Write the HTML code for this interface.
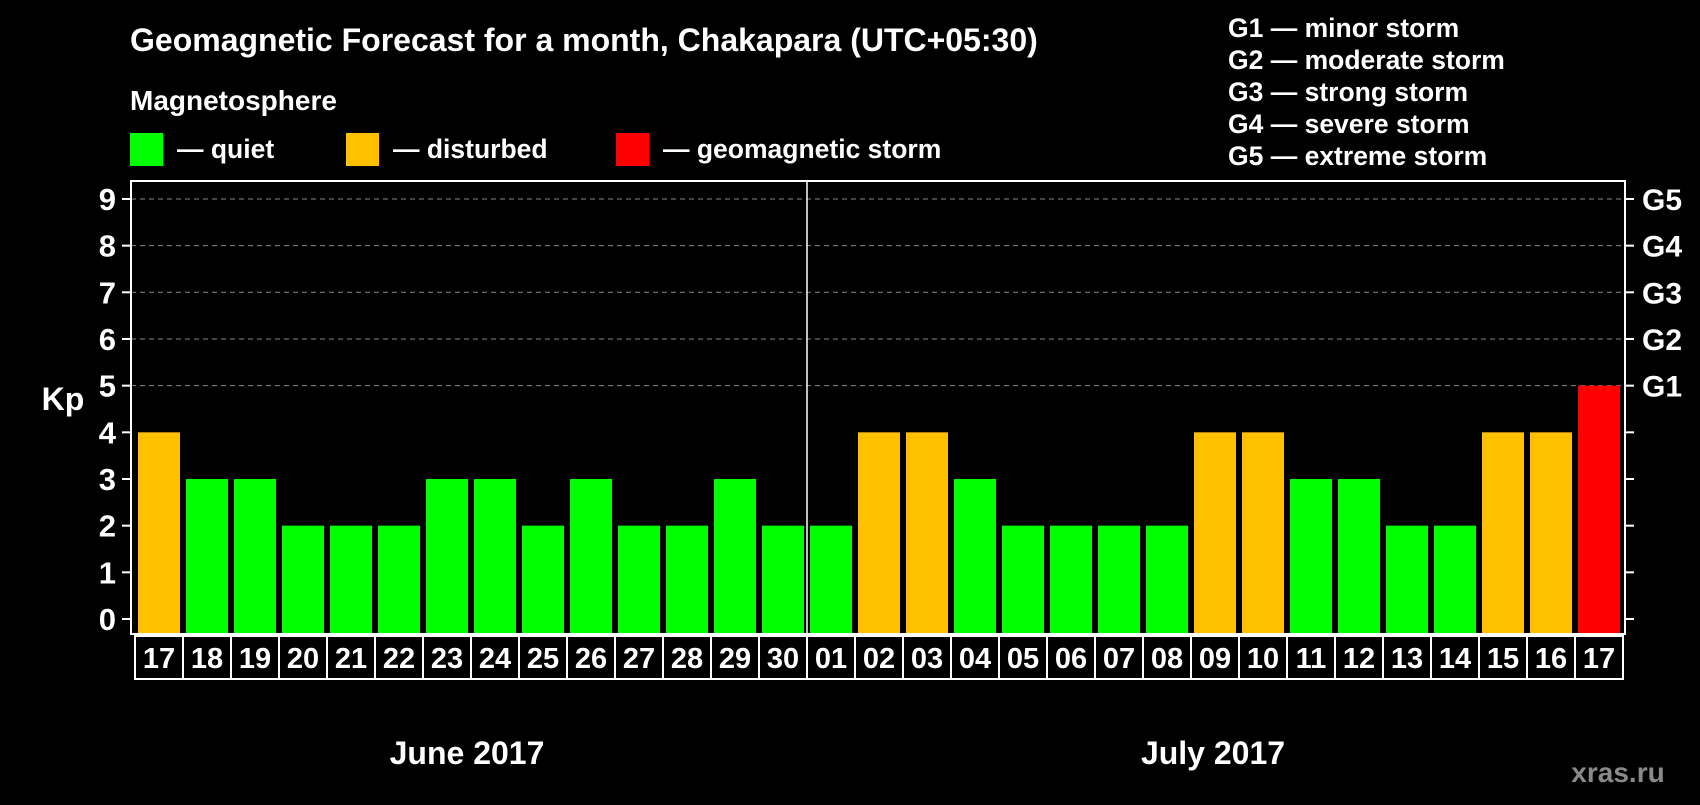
<!DOCTYPE html>
<html><head><meta charset="utf-8"><style>
body{margin:0;background:#000;width:1700px;height:800px;overflow:hidden;font-family:"Liberation Sans",sans-serif;font-weight:bold;color:#fff}
svg text{font-family:"Liberation Sans",sans-serif;font-weight:bold;fill:#fff}
</style></head><body>
<svg id="c" width="1700" height="800">
<text x="130" y="51" font-size="32">Geomagnetic Forecast for a month, Chakapara (UTC+05:30)</text>
<text x="130" y="110" font-size="28">Magnetosphere</text>
<rect x="130" y="133" width="33" height="33" fill="#00ff00"/>
<text x="177" y="158" font-size="26.5">— quiet</text>
<rect x="346" y="133" width="33" height="33" fill="#ffc000"/>
<text x="393" y="158" font-size="26.5">— disturbed</text>
<rect x="616" y="133" width="33" height="33" fill="#ff0000"/>
<text x="663" y="158" font-size="26.5">— geomagnetic storm</text>
<g font-size="26.5">
<text x="1228" y="37">G1 — minor storm</text>
<text x="1228" y="69">G2 — moderate storm</text>
<text x="1228" y="101">G3 — strong storm</text>
<text x="1228" y="133">G4 — severe storm</text>
<text x="1228" y="165">G5 — extreme storm</text>
</g>
<text x="63" y="410" font-size="32" text-anchor="middle">Kp</text>
<g id="grid"></g><g id="bars"></g><g id="axes"></g>
<text x="467" y="764" font-size="32" text-anchor="middle">June 2017</text>
<text x="1213" y="764" font-size="32" text-anchor="middle">July 2017</text>
<text x="1618" y="782" font-size="28" text-anchor="middle" style="fill:#8a8a8a">xras.ru</text>
</svg>
<script>
const days=["17","18","19","20","21","22","23","24","25","26","27","28","29","30","01","02","03","04","05","06","07","08","09","10","11","12","13","14","15","16","17"];
const kp=[4,3,3,2,2,2,3,3,2,3,2,2,3,2,2,4,4,3,2,2,2,2,4,4,3,3,2,2,4,4,5];
const yTicks=[0,1,2,3,4,5,6,7,8,9];
const gLabels=["G1","G2","G3","G4","G5"];
const NS="http://www.w3.org/2000/svg";
const L=131,R=1625,T=181,B=634,pitch=48,x0=135;
const y=v=>619-v*46.67;
function mk(t,a,p){const e=document.createElementNS(NS,t);for(const k in a)e.setAttribute(k,a[k]);p.appendChild(e);return e;}
const grid=document.getElementById('grid'),bars=document.getElementById('bars'),axes=document.getElementById('axes');
yTicks.forEach(v=>{
 if(v>=5){const g=mk('line',{x1:L,x2:R,y1:y(v),y2:y(v),stroke:'#888','stroke-dasharray':'5,4','stroke-width':1},grid);
 
 }
 mk('line',{x1:L-9,x2:L,y1:y(v),y2:y(v),stroke:'#fff','stroke-width':2},axes);
 mk('line',{x1:R,x2:R+9,y1:y(v),y2:y(v),stroke:'#fff','stroke-width':2},axes);
 const t=mk('text',{x:116,y:y(v)+11,'font-size':31,'text-anchor':'end'},axes);t.textContent=v;
 
 
});
gLabels.forEach((g,i)=>{const t=mk('text',{x:1642,y:y(5+i)+11,'font-size':30},axes);t.textContent=g;
 
 });
kp.forEach((v,i)=>{
 const c=v>=5?'#ff0000':v>=4?'#ffc000':'#00ff00';
 const r=mk('rect',{x:x0+3+i*pitch,y:y(v),width:42,height:B-y(v),fill:c},bars);
 
 
 mk('rect',{x:x0+i*pitch,y:636,width:pitch,height:43,fill:'none',stroke:'#fff','stroke-width':2},axes);
 const t=mk('text',{x:x0+i*pitch+pitch/2,y:668,'font-size':29,'text-anchor':'middle'},axes);t.textContent=days[i];
 
 
});
mk('rect',{x:L,y:T,width:R-L,height:B-T,fill:'none',stroke:'#fff','stroke-width':2},axes);
mk('line',{x1:807,x2:807,y1:T,y2:B,stroke:'#fff','stroke-width':1.5},axes);
</script>
</body></html>
